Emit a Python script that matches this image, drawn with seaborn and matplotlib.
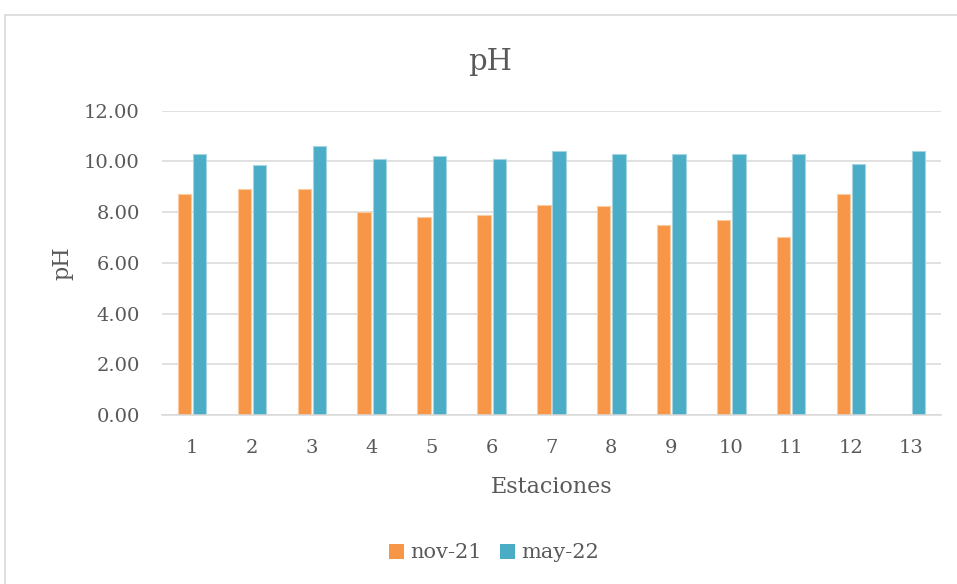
import matplotlib
matplotlib.use("Agg")
import matplotlib.pyplot as plt
from matplotlib.patches import Rectangle, Patch
import numpy as np
import pandas as pd
import seaborn as sns

# Station labels and pH readings for both sampling campaigns
estaciones = [str(i) for i in range(1, 14)]
nov_21 = [8.70, 8.90, 8.90, 8.00, 7.80, 7.90, 8.30, 8.25, 7.50, 7.70, 7.00, 8.70, np.nan]
may_22 = [10.30, 9.85, 10.60, 10.10, 10.20, 10.10, 10.40, 10.30, 10.30, 10.30, 10.30, 9.90, 10.40]
campanas = ["nov-21", "may-22"]
colores = ["#F79646", "#4BACC6"]
bordes = ["#FBCBA3", "#A5D5E2"]
y_ticks = [0, 2, 4, 6, 8, 10, 12]

df = pd.DataFrame({
    "Estaciones": estaciones * 2,
    "pH": nov_21 + may_22,
    "Campaña": [campanas[0]] * len(estaciones) + [campanas[1]] * len(estaciones),
})

sns.set_theme(style="white")
plt.rcParams["font.family"] = ["DejaVu Serif"]
texto = "#595959"

fig = plt.figure(figsize=(9.57, 5.84), dpi=100)
ax = fig.add_axes([162 / 957, 1 - 415 / 584, (941 - 162) / 957, (415 - 110.7) / 584])

sns.barplot(
    data=df, x="Estaciones", y="pH", hue="Campaña", order=estaciones,
    hue_order=campanas, palette=colores, saturation=1, width=0.51, gap=0.13,
    linewidth=0, ax=ax, legend=False,
)
# light edge around each bar
for cont, edge in zip(ax.containers, bordes):
    for bar in cont:
        bar.set_edgecolor(edge)
        bar.set_linewidth(0.8)

ax.set_ylim(0, 12)
ax.set_yticks(y_ticks)
ax.set_yticklabels([f"{v:.2f}" for v in y_ticks])
ax.set_xlim(-0.5, len(estaciones) - 0.5)
ax.yaxis.grid(True, color="#D9D9D9", linewidth=1.1)
ax.set_axisbelow(True)
for side in ["top", "right", "left"]:
    ax.spines[side].set_visible(False)
ax.spines["bottom"].set_color("#D9D9D9")
ax.spines["bottom"].set_linewidth(1.1)
ax.tick_params(axis="both", length=0, labelsize=14, labelcolor=texto)
ax.tick_params(axis="y", pad=16)
ax.tick_params(axis="x", pad=17)

ax.set_xlabel("Estaciones", fontsize=16, color=texto, labelpad=14)
ax.set_ylabel("pH", fontsize=16, color=texto, labelpad=8)

fig.text(490 / 957, 1 - 62 / 584, "pH", ha="center", va="center",
         fontsize=21, color=texto)

# chart frame
fig.patches.append(Rectangle((5 / 957, -0.1), 1.2, 1 - 15 / 584 + 0.1,
                             transform=fig.transFigure, fill=False,
                             edgecolor="#D9D9D9", linewidth=1.2))

handles = [Patch(facecolor=c, edgecolor="none") for c in colores]
fig.legend(handles, campanas, loc="center", bbox_to_anchor=(494 / 957, 1 - 553 / 584),
           ncol=2, frameon=False, fontsize=15, labelcolor=texto,
           handlelength=0.7, handleheight=0.7, handletextpad=0.3,
           columnspacing=0.9)

fig.savefig("out.png", dpi=100, facecolor="white")
